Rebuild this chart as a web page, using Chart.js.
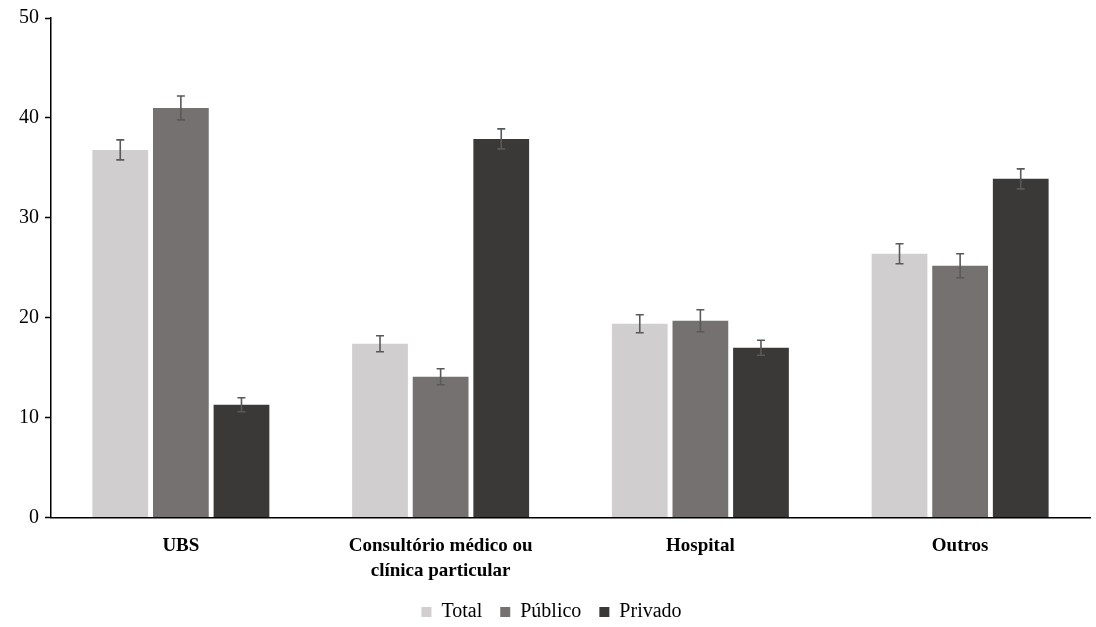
<!DOCTYPE html>
<html>
<head>
<meta charset="utf-8">
<script src="https://cdn.jsdelivr.net/npm/chart.js@4"></script>
<style>
  body { margin: 0; background: #fff; }
  #wrap { width: 1096px; height: 627px; }
</style>
</head>
<body>
<div id="wrap"><canvas id="myChart" width="1096" height="627"></canvas></div>
<script>
const categories = [['UBS'], ['Consultório médico ou', 'clínica particular'], ['Hospital'], ['Outros']];
const totalValues = [36.8, 17.4, 19.4, 26.4];
const publicoValues = [41.0, 14.1, 19.7, 25.2];
const privadoValues = [11.3, 37.9, 17.0, 33.9];
const totalErrors = [1.0, 0.8, 0.9, 1.0];
const publicoErrors = [1.2, 0.8, 1.1, 1.2];
const privadoErrors = [0.7, 1.0, 0.75, 1.0];
const yTicks = [0, 10, 20, 30, 40, 50];

const errorSets = [totalErrors, publicoErrors, privadoErrors];

// draw the error bars on top of every bar
const errorBarPlugin = {
    id: 'errorBars',
    afterDatasetsDraw(chart) {
        const ctx = chart.ctx;
        const y = chart.scales.y;
        ctx.save();
        ctx.strokeStyle = '#595959';
        ctx.lineWidth = 1.6;
        chart.data.datasets.forEach((ds, i) => {
            const meta = chart.getDatasetMeta(i);
            meta.data.forEach((bar, j) => {
                const v = ds.data[j];
                const e = errorSets[i][j];
                const top = y.getPixelForValue(v + e);
                const bot = y.getPixelForValue(v - e);
                ctx.beginPath();
                ctx.moveTo(bar.x, top);
                ctx.lineTo(bar.x, bot);
                ctx.moveTo(bar.x - 4, top);
                ctx.lineTo(bar.x + 4, top);
                ctx.moveTo(bar.x - 4, bot);
                ctx.lineTo(bar.x + 4, bot);
                ctx.stroke();
            });
        });
        ctx.restore();
    }
};

var ctx = document.getElementById('myChart').getContext('2d');
var myChart = new Chart(ctx, {
    type: 'bar',
    data: {
        labels: categories,
        datasets: [{
            label: 'Total',
            data: totalValues,
            backgroundColor: '#d0cece'
        }, {
            label: 'Público',
            data: publicoValues,
            backgroundColor: '#767171'
        }, {
            label: 'Privado',
            data: privadoValues,
            backgroundColor: '#3b3838'
        }]
    },
    options: {
        responsive: false,
        animation: false,
        layout: {
            padding: { top: 9, right: 6, left: 13, bottom: -5 }
        },
        datasets: {
            bar: {
                categoryPercentage: 0.7,
                barPercentage: 0.92
            }
        },
        plugins: {
            legend: {
                display: true,
                position: 'bottom',
                labels: {
                    color: '#000',
                    font: { family: 'Liberation Serif', size: 20 },
                    boxWidth: 10,
                    boxHeight: 10,
                    padding: 3,
                    // a bit more room between the items, like the original
                    generateLabels: chart => {
                        const items = Chart.defaults.plugins.legend.labels.generateLabels(chart);
                        items.forEach((it, i) => { if (i < items.length - 1) it.text = it.text + '   '; });
                        return items;
                    }
                }
            },
            tooltip: { enabled: false }
        },
        scales: {
            x: {
                grid: { display: false, drawTicks: false },
                border: { color: '#000', width: 1.5 },
                ticks: {
                    color: '#000',
                    padding: 16,
                    maxRotation: 0,
                    font: { family: 'Liberation Serif', size: 19, weight: 'bold', lineHeight: 1.3 }
                }
            },
            y: {
                min: 0,
                max: 50,
                afterBuildTicks: axis => { axis.ticks = yTicks.map(v => ({ value: v })); },
                grid: { drawOnChartArea: false, drawTicks: true, tickLength: 6, tickColor: '#000', tickWidth: 1.5 },
                border: { color: '#000', width: 1.5 },
                ticks: {
                    color: '#000',
                    padding: 6,
                    font: { family: 'Liberation Serif', size: 20 }
                }
            }
        }
    },
    plugins: [errorBarPlugin]
});
</script>
</body>
</html>
